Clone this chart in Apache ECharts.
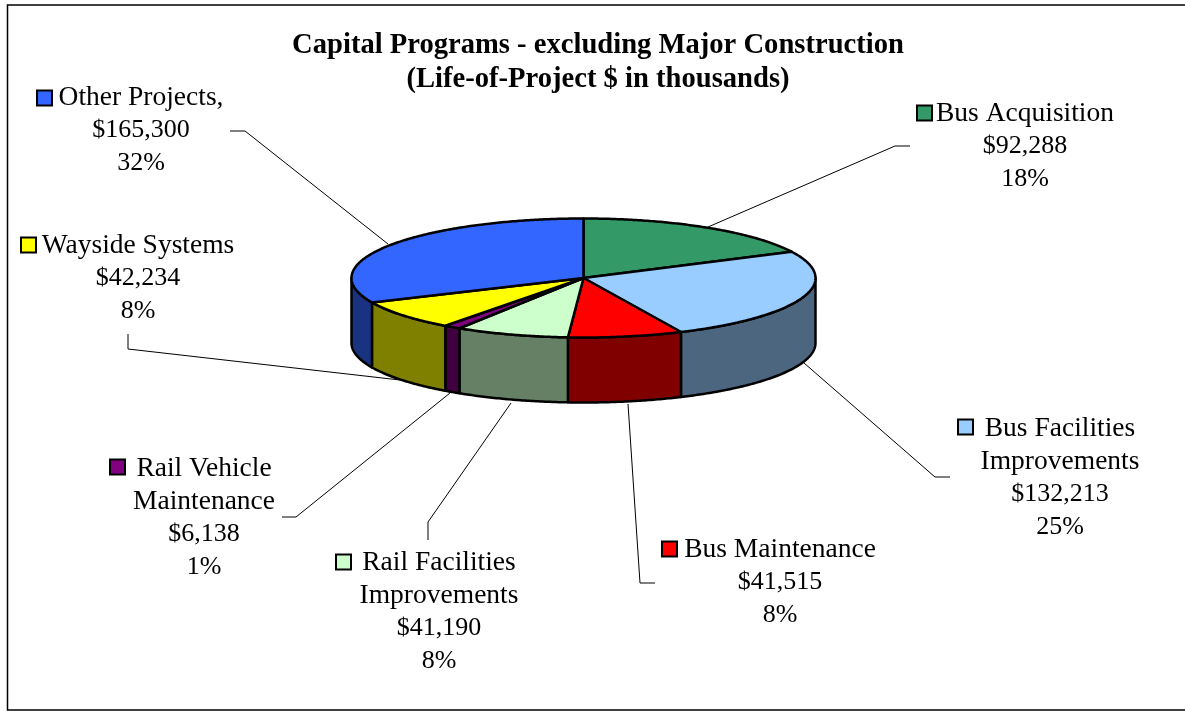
<!DOCTYPE html>
<html>
<head>
<meta charset="utf-8">
<style>
  html, body { margin: 0; padding: 0; background: #fff; }
  #chart { width: 1185px; height: 711px; }
</style>
<script src="https://cdn.jsdelivr.net/npm/echarts@6/dist/echarts.min.js"></script>
</head>
<body>
<div id="chart"></div>
<script>
// chart data, clockwise from 12 o'clock
const categories = ['Bus Acquisition', 'Bus Facilities Improvements', 'Bus Maintenance', 'Rail Facilities Improvements', 'Rail Vehicle Maintenance', 'Wayside Systems', 'Other Projects'];
const values = [92288, 132213, 41515, 41190, 6138, 42234, 165300];
const nameLines = [['Bus Acquisition'], ['Bus Facilities', 'Improvements'], ['Bus Maintenance'], ['Rail Facilities', 'Improvements'], ['Rail Vehicle', 'Maintenance'], ['Wayside Systems'], ['Other Projects,']];
const colors = ['#339966', '#99CCFF', '#FF0000', '#CCFFCC', '#800080', '#FFFF00', '#3366FF'];
const wallColors = ['#1A4D33', '#4D6680', '#800000', '#668066', '#400040', '#808000', '#1A3380'];
const titleText = 'Capital Programs - excluding Major Construction\n(Life-of-Project $ in thousands)';

// layout, kept apart from the data
const pie = { cx: 583.5, cy: 278, rx: 232, ry: 59.5, depth: 65 };
const labelCenter = [[1025, 113], [1060, 428], [780, 549], [439, 562], [204, 468], [138, 245], [141, 97]];
const keyPos = [[916, 113], [957, 427], [661, 549], [335, 562], [109, 467], [20, 245], [36, 98]];
const leaders = [
  [[910, 146], [895, 146], [708, 227]],
  [[950, 477], [935, 477], [804, 363]],
  [[655, 583], [640, 583], [628, 404]],
  [[428, 540], [428, 522], [511, 403]],
  [[282, 517], [296, 517], [450, 393]],
  [[128, 334], [128, 349], [400, 380]],
  [[230, 131], [245, 131], [388, 244]]
];
const LINE_H = 32.6;
const FONT = '"Liberation Serif", serif';

const total = values.reduce((a, b) => a + b, 0);
const fmt = v => '$' + v.toLocaleString('en-US');
const pct = v => Math.round((v / total) * 100) + '%';

// running start/end angle of each slice
let run = 0;
const seriesData = values.map((v, i) => {
  const start = (run / total) * Math.PI * 2;
  run += v;
  return { value: [start, (run / total) * Math.PI * 2, i], name: categories[i] };
});

function rim(a, drop) {
  return [pie.cx + pie.rx * Math.sin(a), pie.cy - pie.ry * Math.cos(a) + drop];
}

function arc(a0, a1, drop) {
  const n = Math.max(2, Math.ceil((a1 - a0) / 0.01));
  const pts = [];
  for (let k = 0; k <= n; k++) pts.push(rim(a0 + ((a1 - a0) * k) / n, drop));
  return pts;
}

const edge = { stroke: '#000', lineWidth: 2.5, lineJoin: 'round' };

function labelLine(x, y, text, size) {
  return {
    type: 'text',
    z2: 3,
    style: { x: x, y: y, text: text, textAlign: 'center', textVerticalAlign: 'middle', fill: '#000', font: size + 'px ' + FONT }
  };
}

function renderSlice(params, api) {
  const a0 = api.value(0);
  const a1 = api.value(1);
  const i = api.value(2);
  const children = [];

  // leader line sits underneath the pie
  children.push({ type: 'polyline', z2: 0, shape: { points: leaders[i] }, style: { fill: null, stroke: '#000', lineWidth: 1 } });

  // visible wall is only the front half of the rim
  const w0 = Math.max(a0, Math.PI / 2);
  const w1 = Math.min(a1, (Math.PI * 3) / 2);
  if (w1 > w0) {
    const pts = arc(w0, w1, 0).concat(arc(w0, w1, pie.depth).reverse());
    children.push({ type: 'polygon', z2: 1, shape: { points: pts }, style: { fill: wallColors[i], ...edge } });
  }

  const top = [[pie.cx, pie.cy]].concat(arc(a0, a1, 0));
  children.push({ type: 'polygon', z2: 2, shape: { points: top }, style: { fill: colors[i], ...edge } });

  // colour key and label, names set a little larger than the figures
  children.push({ type: 'rect', z2: 3, shape: { x: keyPos[i][0] + 1, y: keyPos[i][1] - 7.5, width: 15, height: 15 }, style: { fill: colors[i], stroke: '#000', lineWidth: 2 } });
  const [lx, ly] = labelCenter[i];
  nameLines[i].forEach((t, k) => children.push(labelLine(lx, ly + 1 + k * LINE_H, t, 27.5)));
  const n = nameLines[i].length;
  children.push(labelLine(lx, ly + 1 + n * LINE_H, fmt(values[i]), 26));
  children.push(labelLine(lx, ly + 1 + (n + 1) * LINE_H, pct(values[i]), 26));
  return { type: 'group', children: children };
}

const chart = echarts.init(document.getElementById('chart'), null, { renderer: 'canvas' });
chart.setOption({
  animation: false,
  backgroundColor: '#fff',
  title: {
    text: titleText,
    left: 593,
    top: 24,
    textAlign: 'center',
    textStyle: { fontFamily: FONT, fontSize: 28.6, fontWeight: 'bold', color: '#000', lineHeight: 34 }
  },
  // the frame runs off the right side of the picture
  graphic: [{ type: 'rect', shape: { x: 7.5, y: 5, width: 1300, height: 705 }, style: { fill: null, stroke: '#000', lineWidth: 1.5 }, z: -1 }],
  series: [{ type: 'custom', coordinateSystem: 'none', silent: true, renderItem: renderSlice, data: seriesData }]
});
</script>
</body>
</html>
